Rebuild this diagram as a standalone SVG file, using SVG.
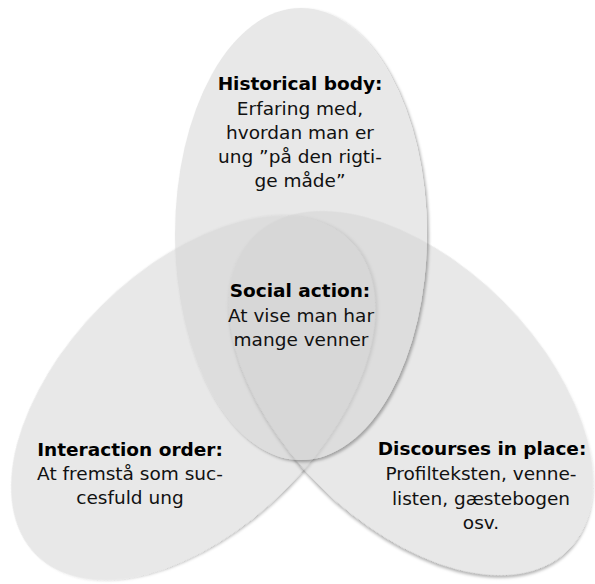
<svg xmlns="http://www.w3.org/2000/svg" width="595" height="584" viewBox="0 0 595 584">
  <style>
    .blob { fill: #d1d1d1; fill-opacity: 0.5; filter: url(#sh); }
    text { font-family: "DejaVu Sans", Verdana, sans-serif; font-size: 18.5px; fill: #111; text-anchor: middle; }
    .title { font-weight: bold; fill: #000; }
  </style>
  <defs>
    <filter id="sh" x="-10%" y="-10%" width="120%" height="120%">
      <feComponentTransfer in="SourceAlpha" result="a"><feFuncA type="linear" slope="2"/></feComponentTransfer>
      <feGaussianBlur in="a" stdDeviation="1.8" result="b"/>
      <feOffset in="b" dx="1.5" dy="2" result="o"/>
      <feComposite in="o" in2="a" operator="out" result="s"/>
      <feFlood flood-color="#000" flood-opacity="0.3"/>
      <feComposite in2="s" operator="in" result="sc"/>
      <feMerge><feMergeNode in="sc"/><feMergeNode in="SourceGraphic"/></feMerge>
    </filter>
  </defs>
  <rect width="595" height="584" fill="#fff"/>
  <g id="interaction-order">
    <ellipse class="blob" cx="0" cy="0" rx="222" ry="130" transform="translate(193,398) rotate(-45)"/>
  </g>
  <g id="discourses-in-place">
    <ellipse class="blob" cx="0" cy="0" rx="222" ry="130" transform="translate(411,393) rotate(45)"/>
  </g>
  <g id="historical-body">
    <ellipse class="blob" cx="301" cy="234" rx="126" ry="226"/>
  </g>
  <g id="connectors"/>
  <g id="labels-historical-body">
    <text class="title" x="300" y="90">Historical body:</text>
    <text x="300" y="114.5">Erfaring med,</text>
    <text x="300" y="138.5">hvordan man er</text>
    <text x="300" y="162.5">ung ”på den rigti-</text>
    <text x="300" y="186.5">ge måde”</text>
  </g>
  <g id="social-action">
    <text class="title" x="300" y="297">Social action:</text>
    <text x="301" y="321.5">At vise man har</text>
    <text x="301" y="345.5">mange venner</text>
  </g>
  <g id="labels-interaction-order">
    <text class="title" x="130" y="456">Interaction order:</text>
    <text x="130" y="480">At fremstå som suc-</text>
    <text x="130" y="504">cesfuld ung</text>
  </g>
  <g id="labels-discourses-in-place">
    <text class="title" x="482" y="455">Discourses in place:</text>
    <text x="481" y="480">Profilteksten, venne-</text>
    <text x="481" y="504.5">listen, gæstebogen</text>
    <text x="481" y="528.5">osv.</text>
  </g>
</svg>
